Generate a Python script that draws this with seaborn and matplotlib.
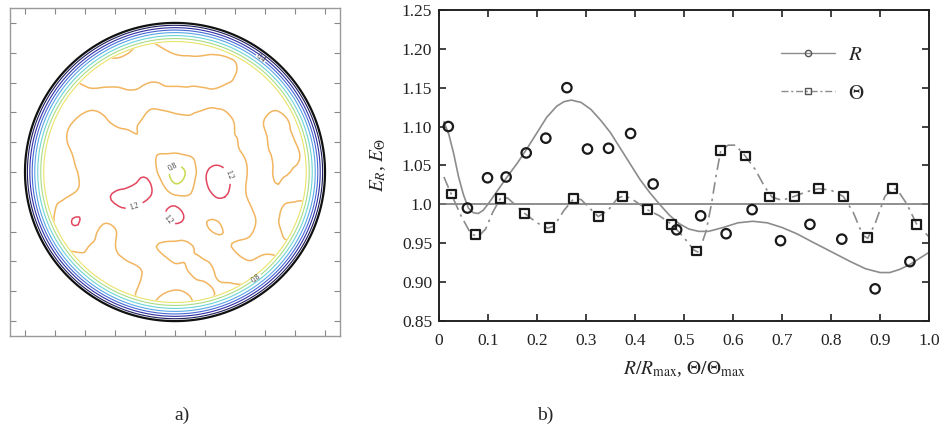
import numpy as np
import pandas as pd
import seaborn as sns
import matplotlib
matplotlib.use("Agg")
import matplotlib.pyplot as plt
import matplotlib.tri as mtri
from matplotlib.lines import Line2D
from matplotlib.patches import Circle

# ---- panel a): field map inside the disc (values read off the picture) ----
grid_x = [-1.0, -0.833, -0.667, -0.5, -0.333, -0.167, 0.0, 0.167, 0.333, 0.5, 0.667, 0.833, 1.0]
grid_y = [1.0, 0.833, 0.667, 0.5, 0.333, 0.167, 0.0, -0.167, -0.333, -0.5, -0.667, -0.833, -1.0]
field = [
    [0.90, 0.90, 0.90, 0.90, 0.90, 0.90, 0.90, 0.90, 0.90, 0.90, 0.90, 0.90, 0.90],
    [0.90, 0.90, 0.93, 0.95, 0.96, 1.03, 0.96, 0.95, 0.95, 0.94, 0.92, 0.90, 0.90],
    [0.90, 0.90, 1.01, 1.05, 1.05, 1.04, 1.05, 1.05, 1.04, 0.97, 0.94, 0.90, 0.90],
    [0.90, 0.90, 0.95, 0.97, 0.96, 0.97, 0.96, 0.97, 0.97, 0.96, 0.95, 0.90, 0.90],
    [0.90, 0.92, 1.01, 1.04, 0.97, 1.04, 1.08, 1.04, 1.03, 0.97, 1.03, 0.94, 0.90],
    [0.90, 0.93, 1.02, 1.04, 1.03, 1.03, 1.10, 1.03, 1.04, 0.97, 1.02, 0.99, 0.90],
    [0.90, 0.93, 0.99, 1.04, 1.05, 1.12, 0.75, 1.08, 1.22, 0.98, 1.01, 0.96, 0.90],
    [0.90, 0.94, 1.03, 1.14, 1.25, 1.20, 1.04, 1.08, 1.20, 0.97, 0.97, 0.95, 0.90],
    [0.90, 0.95, 1.21, 1.03, 1.06, 1.04, 1.22, 1.04, 1.03, 1.04, 0.97, 1.21, 0.90],
    [0.90, 0.93, 1.03, 0.97, 1.04, 1.03, 0.96, 1.03, 1.02, 0.97, 0.96, 0.93, 0.90],
    [0.90, 0.90, 0.96, 0.97, 0.96, 1.03, 1.04, 0.98, 1.03, 1.04, 1.03, 0.90, 0.90],
    [0.90, 0.90, 0.90, 0.93, 0.95, 1.03, 0.96, 1.03, 0.95, 0.93, 0.90, 0.90, 0.90],
    [0.90, 0.90, 0.90, 0.90, 0.90, 0.90, 0.90, 0.90, 0.90, 0.90, 0.90, 0.90, 0.90],
]
inner_levels = [0.8, 1.0, 1.2]
inner_colors = ["#c9d94e", "#f2b560", "#e2465e"]

# rim rings (fall-off to the wall) and their labels
rim_radius = [0.875, 0.895, 0.915, 0.935, 0.952, 0.968, 0.984, 1.0]
rim_colors = ["#e9e36a", "#a9dd85", "#6dd4d6", "#5aa6e6", "#4668d6", "#2f2fa6", "#1c1c5c", "#111111"]
rim_labels = {0.895: "0.8", 0.952: "0.4"}

# ---- panel b): E_R and E_Theta ----
r_x = [0.019, 0.058, 0.099, 0.137, 0.178, 0.218, 0.261, 0.303, 0.346, 0.391,
       0.437, 0.485, 0.534, 0.586, 0.639, 0.697, 0.757, 0.822, 0.890, 0.961]
r_y = [1.100, 0.995, 1.034, 1.035, 1.066, 1.085, 1.150, 1.071, 1.072, 1.091,
       1.026, 0.967, 0.985, 0.962, 0.993, 0.953, 0.974, 0.955, 0.891, 0.926]

t_x = [0.025, 0.075, 0.125, 0.175, 0.225, 0.275, 0.325, 0.375, 0.425, 0.475,
       0.525, 0.575, 0.625, 0.675, 0.725, 0.775, 0.825, 0.875, 0.925, 0.975]
t_y = [1.013, 0.961, 1.007, 0.988, 0.970, 1.007, 0.984, 1.010, 0.993, 0.974,
       0.940, 1.069, 1.062, 1.009, 1.010, 1.020, 1.010, 0.957, 1.020, 0.974]

r_fit_x = [0.01, 0.02, 0.03, 0.04, 0.05, 0.06, 0.07, 0.08, 0.09, 0.10, 0.12, 0.14,
           0.16, 0.18, 0.20, 0.22, 0.24, 0.255, 0.27, 0.29, 0.31, 0.33, 0.35, 0.37,
           0.39, 0.41, 0.43, 0.45, 0.47, 0.49, 0.51, 0.53, 0.55, 0.58, 0.61, 0.64,
           0.67, 0.70, 0.73, 0.76, 0.80, 0.84, 0.87, 0.90, 0.92, 0.94, 0.96, 0.98, 1.00]
r_fit_y = [1.106, 1.090, 1.065, 1.035, 1.012, 0.995, 0.989, 0.988, 0.992, 1.000, 1.018, 1.036,
           1.053, 1.072, 1.092, 1.112, 1.126, 1.132, 1.134, 1.131, 1.122, 1.108, 1.092, 1.072,
           1.052, 1.032, 1.015, 1.000, 0.986, 0.975, 0.968, 0.965, 0.965, 0.970, 0.976, 0.978,
           0.976, 0.970, 0.962, 0.952, 0.939, 0.926, 0.917, 0.912, 0.912, 0.916, 0.922, 0.930, 0.938]

t_fit_x = [0.010, 0.025, 0.045, 0.065, 0.080, 0.095, 0.110, 0.125, 0.140, 0.175, 0.200,
           0.222, 0.235, 0.255, 0.275, 0.290, 0.325, 0.345, 0.365, 0.380, 0.400, 0.425,
           0.450, 0.475, 0.500, 0.520, 0.530, 0.545, 0.556, 0.565, 0.575, 0.590, 0.605,
           0.625, 0.645, 0.665, 0.680, 0.700, 0.725, 0.750, 0.775, 0.800, 0.825, 0.845,
           0.865, 0.875, 0.890, 0.910, 0.925, 0.935, 0.955, 0.975, 1.000]
t_fit_y = [1.035, 1.013, 0.985, 0.962, 0.958, 0.968, 0.990, 1.007, 1.008, 0.988, 0.976,
           0.969, 0.972, 0.992, 1.007, 1.006, 0.984, 0.992, 1.008, 1.011, 1.004, 0.993,
           0.985, 0.974, 0.957, 0.941, 0.938, 0.965, 1.000, 1.035, 1.069, 1.076, 1.076,
           1.062, 1.045, 1.022, 1.009, 1.005, 1.010, 1.016, 1.020, 1.018, 1.010, 0.990,
           0.960, 0.956, 0.975, 1.010, 1.020, 1.019, 1.000, 0.974, 0.958]

x_ticks = [0, 0.1, 0.2, 0.3, 0.4, 0.5, 0.6, 0.7, 0.8, 0.9, 1.0]
x_tick_labels = ["0", "0.1", "0.2", "0.3", "0.4", "0.5", "0.6", "0.7", "0.8", "0.9", "1.0"]
y_ticks = [0.85, 0.90, 0.95, 1.00, 1.05, 1.10, 1.15, 1.20, 1.25]
y_tick_labels = ["0.85", "0.90", "0.95", "1.0", "1.05", "1.10", "1.15", "1.20", "1.25"]
ref_level = 1.0

sns.set_style("ticks")
plt.rcParams["font.family"] = ["Liberation Serif", "DejaVu Serif"]
plt.rcParams["mathtext.fontset"] = "stix"

fig = plt.figure(figsize=(9.41, 4.37), dpi=100)
W, H = 941, 437

# ================= panel a =================
ax_map = fig.add_axes([10 / W, 1 - 336 / H, 330 / W, 328 / H])
gx, gy = np.meshgrid(grid_x, grid_y)
tri = mtri.Triangulation(gx.ravel(), gy.ravel())
refiner = mtri.UniformTriRefiner(tri)
tri_f, z_f = refiner.refine_field(np.array(field).ravel(), subdiv=3)
cs_in = ax_map.tricontour(tri_f, z_f, levels=inner_levels, colors=inner_colors, linewidths=1.1)
cs_in.set_clip_path(Circle((0, 0), 0.87, transform=ax_map.transData))
ax_map.clabel(cs_in, levels=[0.8, 1.2], fmt="%.1f", fontsize=5.5, colors="#333333", inline=True)

mx, my = np.meshgrid(np.linspace(-1.1, 1.1, 700), np.linspace(-1.1, 1.1, 700))
cs_rim = ax_map.contour(mx, my, np.hypot(mx, my), levels=rim_radius, colors=rim_colors,
                        linewidths=[0.8] * 7 + [1.6])
ax_map.clabel(cs_rim, levels=list(rim_labels), fmt=rim_labels, fontsize=5.5,
              colors="#333333", inline=True, inline_spacing=1)

ax_map.set_xlim(-1.1, 1.1)
ax_map.set_ylim(-1.1, 1.1)
ax_map.set_xticks(np.arange(-1.0, 1.01, 0.2))
ax_map.set_yticks(np.arange(-1.0, 1.01, 0.2))
ax_map.tick_params(direction="in", length=4, width=0.8, color="#888888",
                   top=True, right=True, labelbottom=False, labelleft=False)
for s in ax_map.spines.values():
    s.set_color("#9a9a9a")
    s.set_linewidth(1.0)

# ================= panel b =================
ax = fig.add_axes([439 / W, 1 - 320.7 / H, 490 / W, 310.7 / H])
ax.axhline(ref_level, color="#7d7d7d", lw=1.2, zorder=1)

r_fit = pd.DataFrame({"x": r_fit_x, "y": r_fit_y})
t_fit = pd.DataFrame({"x": t_fit_x, "y": t_fit_y})
sns.lineplot(data=r_fit, x="x", y="y", ax=ax, color="#8c8c8c", lw=1.2,
             sort=False, estimator=None, zorder=2)
sns.lineplot(data=t_fit, x="x", y="y", ax=ax, color="#8c8c8c", lw=1.2,
             linestyle=(0, (7, 3, 1.5, 3)), sort=False, estimator=None, zorder=2)

sns.scatterplot(x=r_x, y=r_y, ax=ax, marker="o", s=46, facecolor="none",
                edgecolor="#1a1a1a", linewidth=1.6, zorder=3)
sns.scatterplot(x=t_x, y=t_y, ax=ax, marker="s", s=38, facecolor="none",
                edgecolor="#1a1a1a", linewidth=1.6, zorder=3)

ax.set_xlim(0, 1.0)
ax.set_ylim(0.85, 1.25)
ax.set_xticks(x_ticks)
ax.set_xticklabels(x_tick_labels)
ax.set_yticks(y_ticks)
ax.set_yticklabels(y_tick_labels)
ax.tick_params(direction="in", length=5, width=1.2, top=True, right=True,
               labelsize=12.5, colors="#222222")
ax.tick_params(axis="x", pad=9)
ax.tick_params(axis="y", pad=5)
for s in ax.spines.values():
    s.set_color("#222222")
    s.set_linewidth(1.4)

ax.set_xlabel(r"$R/R_{\rm max}$, $\Theta/\Theta_{\rm max}$", fontsize=14, labelpad=7)
ax.set_ylabel(r"$E_R$, $E_\Theta$", fontsize=14, labelpad=10)

handles = [
    Line2D([], [], color="#8c8c8c", lw=1.0, marker="o", ms=4.5, mfc="none",
           mec="#555555", mew=1.0),
    Line2D([], [], color="#8c8c8c", lw=1.0, linestyle=(0, (5, 2, 1.5, 2)), marker="s",
           ms=4.5, mfc="none", mec="#555555", mew=1.0),
]
ax.legend(handles, [r"$R$", r"$\Theta$"], loc="upper left", bbox_to_anchor=(0.66, 0.945),
          frameon=False, fontsize=15, handlelength=2.6, labelspacing=0.9,
          handletextpad=0.6)

fig.text(182 / W, 1 - 415 / H, "a)", ha="center", va="center", fontsize=14)
fig.text(545 / W, 1 - 415 / H, "b)", ha="center", va="center", fontsize=14)

fig.savefig("out.png", dpi=100, facecolor="white")
